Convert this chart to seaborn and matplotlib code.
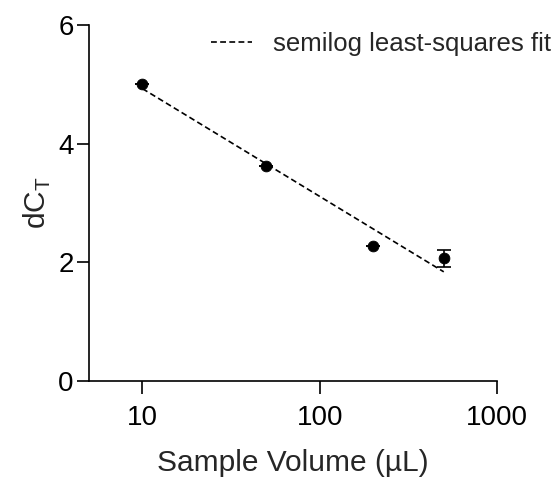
import numpy as np
import pandas as pd
import matplotlib
matplotlib.use("Agg")
import matplotlib.pyplot as plt
import seaborn as sns

# data
volume = [10, 50, 200, 500]
dct = [5.01, 3.63, 2.28, 2.07]
dct_err = [0.0, 0.0, 0.0, 0.14]

sns.set_style("ticks")
plt.rcParams["font.family"] = ["Liberation Sans", "DejaVu Sans"]

df = pd.DataFrame({"volume": volume, "dct": dct})

# semilog least-squares fit
slope, intercept = np.polyfit(np.log10(df["volume"]), df["dct"], 1)
fit_x = np.array([volume[0], volume[-1]])
fit = pd.DataFrame({"volume": fit_x, "dct": slope * np.log10(fit_x) + intercept})

fig = plt.figure(figsize=(5.53, 4.8), dpi=100)
ax = fig.add_axes([0.161, 0.206, 0.738, 0.742])

sns.lineplot(data=fit, x="volume", y="dct", ax=ax, color="black",
             linestyle=(0, (3.5, 2)), linewidth=1.2,
             label="semilog least-squares fit")
ax.errorbar(volume, dct, yerr=dct_err, fmt="none", ecolor="black",
            elinewidth=1.2, capsize=5, capthick=1.2)
sns.scatterplot(data=df, x="volume", y="dct", ax=ax, color="black",
                s=60, edgecolor="black", zorder=3)

ax.set_xscale("log")
ax.set_xlim(5, 1000)
ax.set_ylim(0, 6)
ax.set_xticks([10, 100, 1000])
ax.set_xticklabels(["10", "100", "1000"])
ax.xaxis.set_minor_locator(matplotlib.ticker.NullLocator())
ax.set_yticks([0, 2, 4, 6])

ax.tick_params(axis="both", direction="out", length=9, width=1.2,
               labelsize=20, pad=2, color="black", labelcolor="black")
ax.tick_params(axis="x", pad=8)
for side in ["left", "bottom"]:
    ax.spines[side].set_linewidth(1.2)
    ax.spines[side].set_color("black")
sns.despine(ax=ax)

ax.set_xlabel("Sample Volume (µL)", fontsize=21.5, labelpad=13)
ax.set_ylabel("dC$_\\mathregular{T}$", fontsize=21.5, labelpad=4)

ax.legend(loc="center right", bbox_to_anchor=(551 / 553, 1 - 44 / 480),
          bbox_transform=fig.transFigure, frameon=False, borderpad=0,
          borderaxespad=0, fontsize=18.5, handlelength=1.6,
          handletextpad=0.8)

fig.savefig("out.png", dpi=100)
